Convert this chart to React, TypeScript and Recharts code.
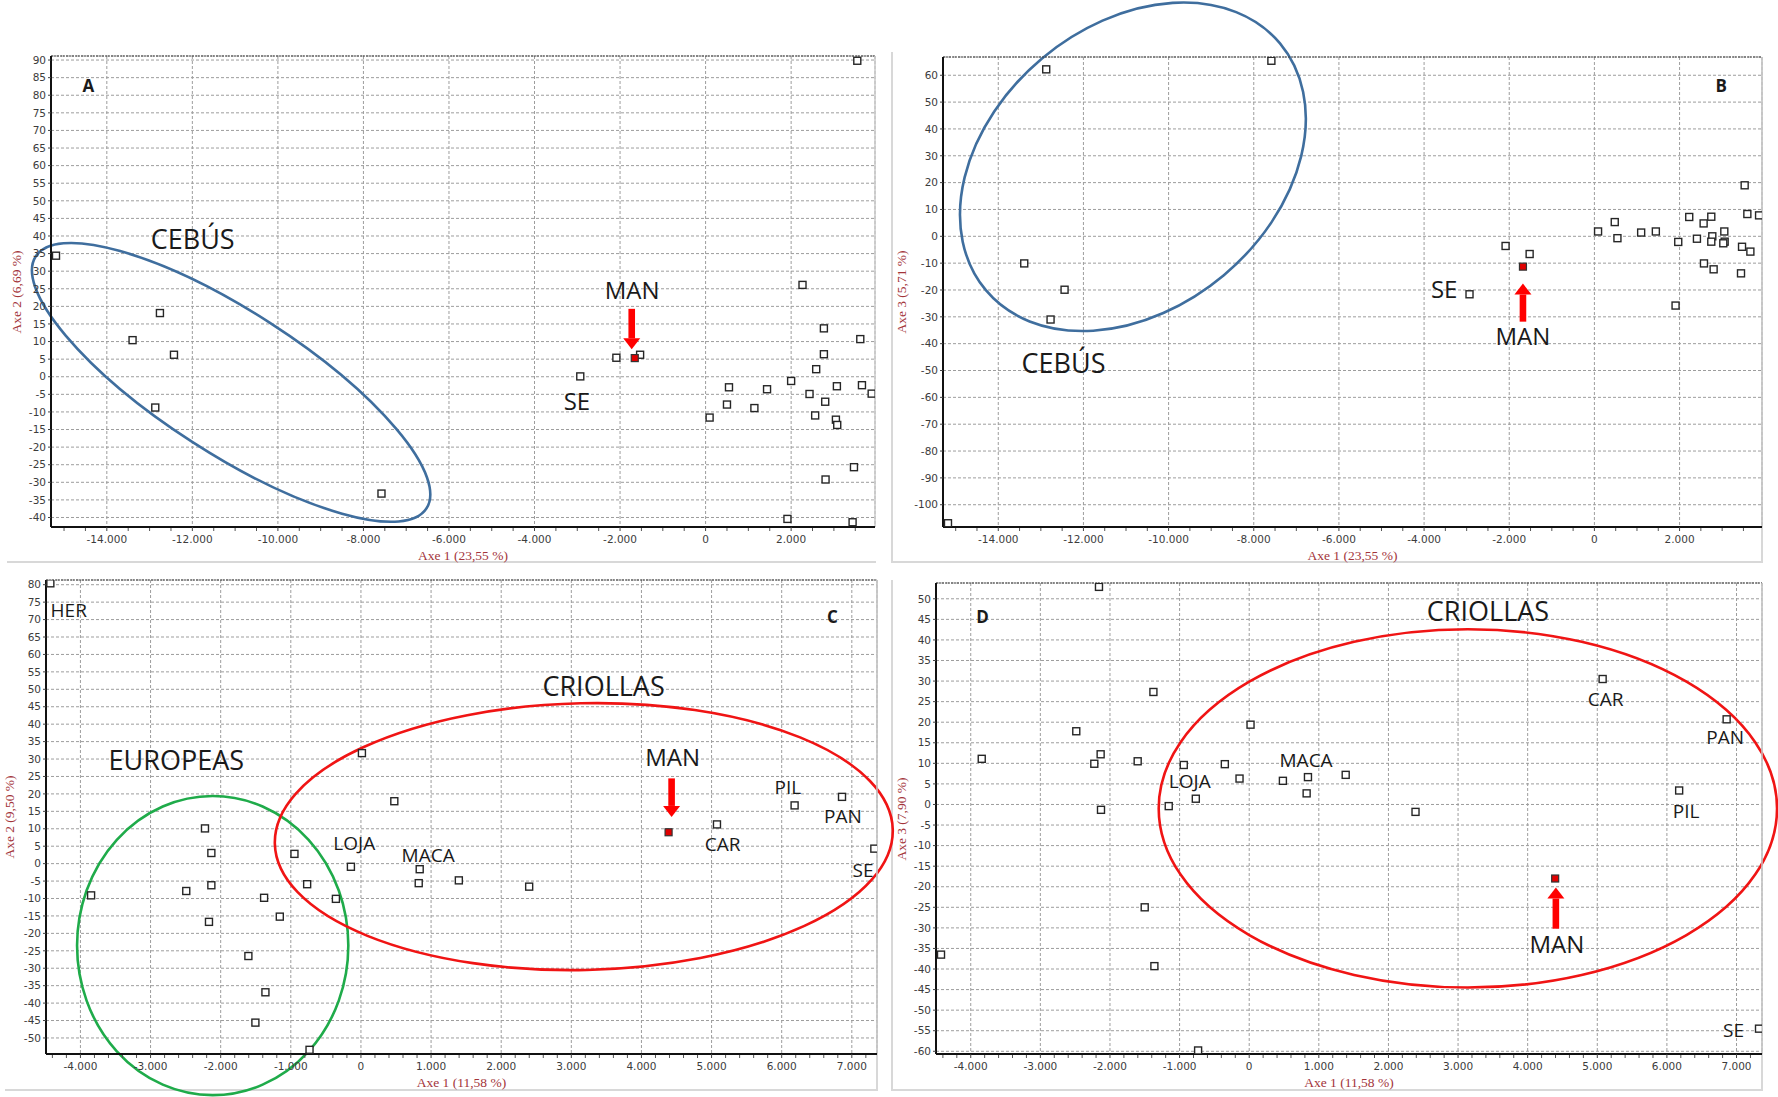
import React from "react";
import {
  ScatterChart,
  Scatter,
  XAxis,
  YAxis,
  CartesianGrid,
  ReferenceArea,
  ReferenceDot,
  ReferenceLine,
} from "recharts";

type Pt = { x: number; y: number };
type Tag = { text: string; x: number; y: number; kind: "panel" | "group" | "focus" | "breed" };
type Ring = { group: "CEBÚS" | "EUROPEAS" | "CRIOLLAS"; cx: number; cy: number; rx: number; ry: number; tilt: number };
type Pointer = { x: number; from: number; to: number };

// ---- axis ticks ----
const AB_X_TICKS = [-14000, -12000, -10000, -8000, -6000, -4000, -2000, 0, 2000];
const AB_X_MINOR = [
  -15000, -14500, -13500, -13000, -12500, -11500, -11000, -10500, -9500, -9000, -8500, -7500, -7000, -6500,
  -5500, -5000, -4500, -3500, -3000, -2500, -1500, -1000, -500, 500, 1000, 1500, 2500, 3000, 3500,
];
const CD_X_TICKS = [-4000, -3000, -2000, -1000, 0, 1000, 2000, 3000, 4000, 5000, 6000, 7000];
const CD_X_MINOR = [
  -4400, -4200, -3800, -3600, -3400, -3200, -2800, -2600, -2400, -2200, -1800, -1600, -1400, -1200,
  -800, -600, -400, -200, 200, 400, 600, 800, 1200, 1400, 1600, 1800, 2200, 2400, 2600, 2800,
  3200, 3400, 3600, 3800, 4200, 4400, 4600, 4800, 5200, 5400, 5600, 5800, 6200, 6400, 6600, 6800, 7200,
];
const A_Y_TICKS = [-40, -35, -30, -25, -20, -15, -10, -5, 0, 5, 10, 15, 20, 25, 30, 35, 40, 45, 50, 55, 60, 65, 70, 75, 80, 85, 90];
const B_Y_TICKS = [-100, -90, -80, -70, -60, -50, -40, -30, -20, -10, 0, 10, 20, 30, 40, 50, 60];
const C_Y_TICKS = [-50, -45, -40, -35, -30, -25, -20, -15, -10, -5, 0, 5, 10, 15, 20, 25, 30, 35, 40, 45, 50, 55, 60, 65, 70, 75, 80];
const D_Y_TICKS = [-60, -55, -50, -45, -40, -35, -30, -25, -20, -15, -10, -5, 0, 5, 10, 15, 20, 25, 30, 35, 40, 45, 50];

// ---- A: Axe 1 x Axe 2, all populations ----
const A_POINTS: Pt[] = [
  { x: -15188, y: 34.4 }, { x: -12758, y: 18.1 }, { x: -13398, y: 10.4 }, { x: -12430, y: 6.25 },
  { x: -12867, y: -8.75 }, { x: -7578, y: -33.2 },
  { x: -2930, y: 0.1 }, { x: -2086, y: 5.4 }, { x: -1531, y: 6.25 },
  { x: 3547, y: 89.8 }, { x: 2266, y: 26.1 }, { x: 2766, y: 13.75 }, { x: 3617, y: 10.7 },
  { x: 2766, y: 6.4 }, { x: 2586, y: 2.15 }, { x: 2000, y: -1.2 }, { x: 547, y: -3 },
  { x: 1437, y: -3.55 }, { x: 3070, y: -2.7 }, { x: 3656, y: -2.4 }, { x: 3883, y: -4.8 },
  { x: 2430, y: -4.9 }, { x: 2797, y: -7.1 }, { x: 500, y: -7.9 }, { x: 1141, y: -8.9 },
  { x: 94, y: -11.6 }, { x: 2562, y: -11 }, { x: 3047, y: -12.2 }, { x: 3078, y: -13.7 },
  { x: 3469, y: -25.7 }, { x: 2805, y: -29.2 }, { x: 1914, y: -40.4 }, { x: 3437, y: -41.35 },
];
const A_MAN: Pt[] = [{ x: -1656, y: 5.3 }];
const A_TAGS: Tag[] = [
  { text: "A", x: -14430, y: 82.8, kind: "panel" },
  { text: "CEBÚS", x: -11992, y: 39.2, kind: "group" },
  { text: "MAN", x: -1718, y: 24.9, kind: "focus" },
  { text: "SE", x: -3008, y: -6.7, kind: "focus" },
];
const A_RINGS: Ring[] = [{ group: "CEBÚS", cx: -11094, cy: -1.6, rx: 5436, ry: 20.2, tilt: 32.8 }];
const A_POINTERS: Pointer[] = [{ x: -1727, from: 19.3, to: 7.8 }];

// ---- B: Axe 1 x Axe 3, all populations ----
const B_POINTS: Pt[] = [
  { x: -12874, y: 62.2 }, { x: -7586, y: 65.4 }, { x: -13390, y: -10.1 }, { x: -12443, y: -19.9 },
  { x: -12772, y: -31 }, { x: -15181, y: -106.9 },
  { x: -2933, y: -21.6 }, { x: -2086, y: -3.6 }, { x: -1521, y: -6.6 },
  { x: 3529, y: 19 }, { x: 3592, y: 8.3 }, { x: 3867, y: 7.8 }, { x: 2227, y: 7.2 },
  { x: 2745, y: 7.3 }, { x: 2565, y: 4.8 }, { x: 478, y: 5.3 }, { x: 86, y: 1.8 },
  { x: 1098, y: 1.4 }, { x: 1443, y: 1.8 }, { x: 3051, y: 1.8 }, { x: 541, y: -0.7 },
  { x: 2408, y: -0.9 }, { x: 2769, y: 0 }, { x: 2745, y: -2 }, { x: 3059, y: -2 },
  { x: 3027, y: -2.6 }, { x: 1969, y: -2.1 }, { x: 3467, y: -3.9 }, { x: 3663, y: -5.7 },
  { x: 2573, y: -10.1 }, { x: 2800, y: -12.3 }, { x: 3443, y: -13.8 }, { x: 1906, y: -25.8 },
];
const B_MAN: Pt[] = [{ x: -1678, y: -11.3 }];
const B_TAGS: Tag[] = [
  { text: "B", x: 2979, y: 56.2, kind: "panel" },
  { text: "SE", x: -3528, y: -19.6, kind: "focus" },
  { text: "MAN", x: -1678, y: -36.8, kind: "focus" },
  { text: "CEBÚS", x: -12467, y: -47.1, kind: "group" },
];
const B_RINGS: Ring[] = [{ group: "CEBÚS", cx: -10838, cy: 25.9, rx: 4509, ry: 52.7, tilt: -40 }];
const B_POINTERS: Pointer[] = [{ x: -1678, from: -31.8, to: -17.6 }];

// ---- C: Axe 1 x Axe 2, without Cebú ----
const C_POINTS: Pt[] = [
  { x: -4429, y: 80.4 }, { x: -3848, y: -9.1 }, { x: -2491, y: -7.85 }, { x: -2224, y: 10.1 },
  { x: -2133, y: 3.05 }, { x: -2133, y: -6.2 }, { x: -2167, y: -16.7 }, { x: -1605, y: -26.5 },
  { x: -1381, y: -9.8 }, { x: -1157, y: -15.2 }, { x: -1362, y: -36.9 }, { x: -1505, y: -45.6 },
  { x: -733, y: -53.4 }, { x: -948, y: 2.8 }, { x: -767, y: -5.9 }, { x: -357, y: -10.1 },
  { x: -143, y: -0.9 }, { x: 14, y: 31.7 }, { x: 476, y: 17.9 }, { x: 838, y: -1.6 },
  { x: 824, y: -5.6 }, { x: 1396, y: -4.8 }, { x: 2399, y: -6.6 }, { x: 5077, y: 11.25 },
  { x: 6184, y: 16.7 }, { x: 6860, y: 19.15 }, { x: 7321, y: 4.3 },
];
const C_MAN: Pt[] = [{ x: 4387, y: 9.0 }];
const C_TAGS: Tag[] = [
  { text: "C", x: 6722, y: 71, kind: "panel" },
  { text: "HER", x: -4167, y: 72.7, kind: "breed" },
  { text: "EUROPEAS", x: -2633, y: 30, kind: "group" },
  { text: "LOJA", x: -95, y: 5.9, kind: "breed" },
  { text: "MACA", x: 958, y: 2.5, kind: "breed" },
  { text: "CRIOLLAS", x: 3460, y: 51.2, kind: "group" },
  { text: "MAN", x: 4444, y: 30.7, kind: "focus" },
  { text: "PIL", x: 6089, y: 22, kind: "breed" },
  { text: "PAN", x: 6874, y: 13.6, kind: "breed" },
  { text: "CAR", x: 5157, y: 5.65, kind: "breed" },
  { text: "SE", x: 7159, y: -1.9, kind: "breed" },
];
const C_RINGS: Ring[] = [
  { group: "EUROPEAS", cx: -2114, cy: -23.5, rx: 1934, ry: 42.9, tilt: 0 },
  { group: "CRIOLLAS", cx: 3178, cy: 7.75, rx: 4407, ry: 38.25, tilt: -1.3 },
];
const C_POINTERS: Pointer[] = [{ x: 4430, from: 24.45, to: 13.4 }];

// ---- D: Axe 1 x Axe 3, without Cebú ----
const D_POINTS: Pt[] = [
  { x: -2158, y: 52.9 }, { x: -1376, y: 27.35 }, { x: -2484, y: 17.8 }, { x: -3842, y: 11.1 },
  { x: -2134, y: 12.2 }, { x: -2225, y: 9.9 }, { x: -1602, y: 10.5 }, { x: -940, y: 9.6 },
  { x: -350, y: 9.8 }, { x: 19, y: 19.4 }, { x: -139, y: 6.3 }, { x: 484, y: 5.75 },
  { x: 844, y: 6.65 }, { x: 825, y: 2.7 }, { x: -767, y: 1.4 }, { x: -1156, y: -0.4 },
  { x: -2129, y: -1.3 }, { x: -1501, y: -25 }, { x: -1362, y: -39.3 }, { x: -4427, y: -36.5 },
  { x: -734, y: -59.8 }, { x: 1386, y: 7.2 }, { x: 2389, y: -1.8 }, { x: 5077, y: 30.5 },
  { x: 6858, y: 20.7 }, { x: 6176, y: 3.4 }, { x: 7323, y: -54.5 },
];
const D_MAN: Pt[] = [{ x: 4395, y: -18 }];
const D_TAGS: Tag[] = [
  { text: "D", x: -3832, y: 45.8, kind: "panel" },
  { text: "LOJA", x: -854, y: 5.8, kind: "breed" },
  { text: "MACA", x: 817, y: 10.9, kind: "breed" },
  { text: "CRIOLLAS", x: 3430, y: 47.1, kind: "group" },
  { text: "CAR", x: 5120, y: 25.6, kind: "breed" },
  { text: "PAN", x: 6838, y: 16.4, kind: "breed" },
  { text: "PIL", x: 6277, y: -1.6, kind: "breed" },
  { text: "MAN", x: 4419, y: -33.7, kind: "focus" },
  { text: "SE", x: 6958, y: -54.8, kind: "breed" },
];
const D_RINGS: Ring[] = [{ group: "CRIOLLAS", cx: 3141, cy: -0.95, rx: 4441, ry: 43.55, tilt: 0 }];
const D_POINTERS: Pointer[] = [{ x: 4405, from: -30.2, to: -20.2 }];

// ---- styling ----
const RING_COLORS: Record<Ring["group"], string> = {
  "CEBÚS": "#3f6e9e",
  EUROPEAS: "#1fab4a",
  CRIOLLAS: "#f01414",
};

const TAG_STYLE: Record<Tag["kind"], React.CSSProperties> = {
  panel: { fontSize: 17, fontWeight: 700 },
  group: { fontSize: 27 },
  focus: { fontSize: 24 },
  breed: { fontSize: 19 },
};

const TICK_FONT = { fontSize: 10.5, fill: "#3c3c3c", fontFamily: "'DejaVu Sans', sans-serif" };
const X_AXIS_HEIGHT = 33;

const TITLE_STYLE: React.CSSProperties = {
  position: "absolute",
  fontFamily: "'Liberation Serif', 'Times New Roman', serif",
  fontSize: 13.5,
  color: "#a3343a",
  whiteSpace: "nowrap",
  lineHeight: 1,
};

// thousands with a dot, as in -14.000
const thousands = (v: number) => (v === 0 ? "0" : `${v < 0 ? "-" : ""}${Math.abs(v) / 1000}.000`);

const hollowSquare = (p: any) => (
  <rect x={p.cx - 3.5} y={p.cy - 3.5} width={7} height={7} fill="#fff" stroke="#262626" strokeWidth={1.4} />
);
const redSquare = (p: any) => (
  <rect x={p.cx - 3.5} y={p.cy - 3.5} width={7} height={7} fill="#e00000" stroke="#333" strokeWidth={1.2} />
);

// short tick hanging under the x axis
const minorTick = (l: any) => {
  const bottom = Math.max(l.y1, l.y2);
  return <line x1={l.x1} x2={l.x1} y1={bottom + 1} y2={bottom + 4} stroke="#555" strokeWidth={1} />;
};

function Arrow({ x1, y1, x2, y2 }: any) {
  const dir = Math.sign(y2 - y1) || 1;
  const headLen = 11;
  const headHalf = 8.5;
  const shaftHalf = 3.3;
  const base = y2 - dir * headLen;
  return (
    <g>
      <rect x={x1 - shaftHalf} y={Math.min(y1, base)} width={shaftHalf * 2} height={Math.abs(base - y1)} fill="#ff0000" />
      <polygon points={`${x2 - headHalf},${base} ${x2 + headHalf},${base} ${x2},${y2}`} fill="#ff0000" />
    </g>
  );
}

interface PanelProps {
  left: number;
  top: number;
  width: number;
  height: number;
  margin: { top: number; right: number; bottom: number; left: number };
  yAxisWidth: number;
  xDomain: [number, number];
  yDomain: [number, number];
  xTicks: number[];
  xMinor: number[];
  yTicks: number[];
  points: Pt[];
  man: Pt[];
  tags: Tag[];
  rings: Ring[];
  pointers: Pointer[];
  xTitle: string;
  yTitle: string;
  yTitleX: number;
}

function Panel(p: PanelProps) {
  const boxLeft = p.margin.left + p.yAxisWidth;
  const boxRight = p.width - p.margin.right;
  const boxTop = p.margin.top;
  const boxBottom = p.height - p.margin.bottom - X_AXIS_HEIGHT;

  return (
    <>
      <div style={{ position: "absolute", left: p.left, top: p.top }}>
        <ScatterChart width={p.width} height={p.height} margin={p.margin}>
          <CartesianGrid stroke="#9d9d9d" strokeDasharray="3 2" />
          <XAxis
            type="number"
            dataKey="x"
            domain={p.xDomain}
            ticks={p.xTicks}
            interval={0}
            allowDataOverflow
            height={X_AXIS_HEIGHT}
            tickFormatter={thousands}
            tick={TICK_FONT}
            tickSize={4}
            tickMargin={5}
            axisLine={{ stroke: "#111", strokeWidth: 2 }}
            tickLine={{ stroke: "#444" }}
          />
          <YAxis
            type="number"
            dataKey="y"
            domain={p.yDomain}
            ticks={p.yTicks}
            interval={0}
            allowDataOverflow
            width={p.yAxisWidth}
            tick={TICK_FONT}
            tickSize={3}
            tickMargin={2}
            axisLine={{ stroke: "#111", strokeWidth: 2 }}
            tickLine={{ stroke: "#444" }}
          />
          <ReferenceLine y={p.yDomain[1]} stroke="#3a3a3a" strokeDasharray="2 1" ifOverflow="visible" />
          <ReferenceLine x={p.xDomain[1]} stroke="#c9c9c9" strokeWidth={1.5} ifOverflow="visible" />
          {p.xMinor.map((v) => (
            <ReferenceLine key={`minor-${v}`} x={v} ifOverflow="visible" shape={minorTick} />
          ))}

          {p.rings.map((r, i) => (
            <ReferenceArea
              key={`ring-${i}`}
              x1={r.cx - r.rx}
              x2={r.cx + r.rx}
              y1={r.cy - r.ry}
              y2={r.cy + r.ry}
              ifOverflow="visible"
              shape={(a: any) => {
                const cx = a.x + a.width / 2;
                const cy = a.y + a.height / 2;
                return (
                  <ellipse
                    cx={cx}
                    cy={cy}
                    rx={Math.abs(a.width) / 2}
                    ry={Math.abs(a.height) / 2}
                    transform={`rotate(${r.tilt} ${cx} ${cy})`}
                    fill="none"
                    stroke={RING_COLORS[r.group]}
                    strokeWidth={2.6}
                  />
                );
              }}
            />
          ))}

          <Scatter data={p.points} shape={hollowSquare} isAnimationActive={false} />
          <Scatter data={p.man} shape={redSquare} isAnimationActive={false} />

          {p.pointers.map((a, i) => (
            <ReferenceLine
              key={`arrow-${i}`}
              segment={[{ x: a.x, y: a.from }, { x: a.x, y: a.to }]}
              ifOverflow="visible"
              shape={(l: any) => <Arrow {...l} />}
            />
          ))}

          {p.tags.map((t, i) => (
            <ReferenceDot
              key={`tag-${i}`}
              x={t.x}
              y={t.y}
              r={0}
              ifOverflow="visible"
              shape={(d: any) => (
                <text
                  x={d.cx}
                  y={d.cy}
                  textAnchor="middle"
                  dominantBaseline="central"
                  fill="#1a1a1a"
                  style={{ fontFamily: "'Open Sans', sans-serif", ...TAG_STYLE[t.kind] }}
                >
                  {t.text}
                </text>
              )}
            />
          ))}
        </ScatterChart>
      </div>
      <div
        style={{
          ...TITLE_STYLE,
          left: p.left + (boxLeft + boxRight) / 2,
          top: p.top + boxBottom + 29,
          transform: "translate(-50%, -50%)",
        }}
      >
        {p.xTitle}
      </div>
      <div
        style={{
          ...TITLE_STYLE,
          left: p.yTitleX,
          top: p.top + (boxTop + boxBottom) / 2,
          transform: "translate(-50%, -50%) rotate(-90deg)",
        }}
      >
        {p.yTitle}
      </div>
    </>
  );
}

// pale frame lines around the four panels
const Rule = ({ l, t, w, h }: { l: number; t: number; w: number; h: number }) => (
  <div style={{ position: "absolute", left: l, top: t, width: w, height: h, background: "#d8d8d8" }} />
);

export default function App() {
  return (
    <div style={{ position: "absolute", left: 0, top: 0, width: 1778, height: 1097, background: "#fff", overflow: "hidden" }}>
      <Rule l={7} t={561} w={869} h={2} />
      <Rule l={891} t={52} w={2} h={511} />
      <Rule l={891} t={561} w={872} h={2} />
      <Rule l={1761} t={57} w={2} h={506} />
      <Rule l={5} t={1089} w={872} h={2} />
      <Rule l={876} t={580} w={2} h={511} />
      <Rule l={891} t={580} w={2} h={511} />
      <Rule l={891} t={1089} w={872} h={2} />
      <Rule l={1761} t={583} w={2} h={508} />

      <Panel
        left={0}
        top={0}
        width={889}
        height={566}
        margin={{ top: 56, right: 14, bottom: 6, left: 21 }}
        yAxisWidth={30}
        xDomain={[-15305, 3961]}
        yDomain={[-42.7, 91.15]}
        xTicks={AB_X_TICKS}
        xMinor={AB_X_MINOR}
        yTicks={A_Y_TICKS}
        points={A_POINTS}
        man={A_MAN}
        tags={A_TAGS}
        rings={A_RINGS}
        pointers={A_POINTERS}
        xTitle="Axe 1 (23,55 %)"
        yTitle="Axe 2 (6,69 %)"
        yTitleX={17}
      />
      <Panel
        left={889}
        top={0}
        width={889}
        height={566}
        margin={{ top: 57, right: 16, bottom: 6, left: 14 }}
        yAxisWidth={40}
        xDomain={[-15298, 3936]}
        yDomain={[-108.3, 66.8]}
        xTicks={AB_X_TICKS}
        xMinor={AB_X_MINOR}
        yTicks={B_Y_TICKS}
        points={B_POINTS}
        man={B_MAN}
        tags={B_TAGS}
        rings={B_RINGS}
        pointers={B_POINTERS}
        xTitle="Axe 1 (23,55 %)"
        yTitle="Axe 3 (5,71 %)"
        yTitleX={902}
      />
      <Panel
        left={0}
        top={560}
        width={905}
        height={537}
        margin={{ top: 20, right: 28, bottom: 10, left: 16 }}
        yAxisWidth={30}
        xDomain={[-4491, 7359]}
        yDomain={[-54.6, 81.35]}
        xTicks={CD_X_TICKS}
        xMinor={CD_X_MINOR}
        yTicks={C_Y_TICKS}
        points={C_POINTS}
        man={C_MAN}
        tags={C_TAGS}
        rings={C_RINGS}
        pointers={C_POINTERS}
        xTitle="Axe 1 (11,58 %)"
        yTitle="Axe 2 (9,50 %)"
        yTitleX={10}
      />
      <Panel
        left={889}
        top={560}
        width={889}
        height={537}
        margin={{ top: 23, right: 16, bottom: 10, left: 17 }}
        yAxisWidth={30}
        xDomain={[-4499, 7366]}
        yDomain={[-60.66, 53.84]}
        xTicks={CD_X_TICKS}
        xMinor={CD_X_MINOR}
        yTicks={D_Y_TICKS}
        points={D_POINTS}
        man={D_MAN}
        tags={D_TAGS}
        rings={D_RINGS}
        pointers={D_POINTERS}
        xTitle="Axe 1 (11,58 %)"
        yTitle="Axe 3 (7,90 %)"
        yTitleX={902}
      />
    </div>
  );
}
